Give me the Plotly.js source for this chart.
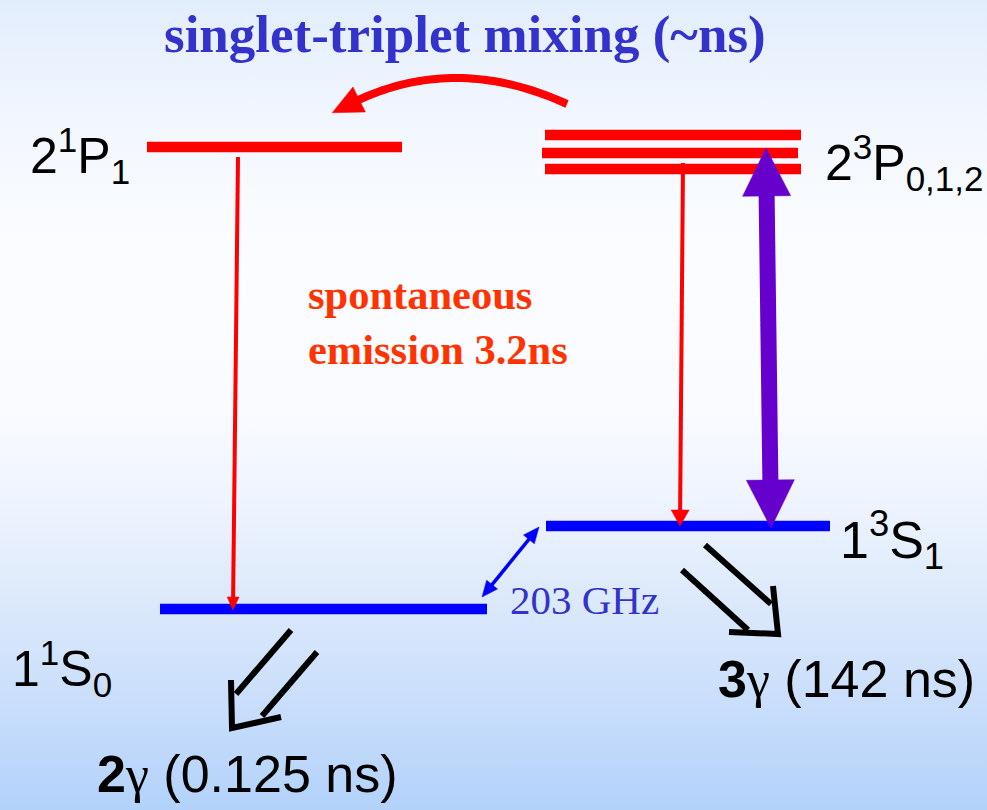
<!DOCTYPE html>
<html><head><meta charset="utf-8">
<script src="https://cdn.plot.ly/plotly-3.0.1.min.js"></script>
<style>
html,body{margin:0;padding:0;background:#fff;}
#chart{width:987px;height:810px;background:linear-gradient(to bottom,#e2edfc 0%,#f2f7fe 15%,#fafcff 30%,#f9fbff 50%,#eef4fe 62%,#dce9fb 74%,#c9defb 87%,#b2d2fa 100%);}
</style></head><body><div id="chart"></div>
<script>
// ---- data: energy levels (diagram coordinates) ----
const levelNames  = ['2¹P₁', '2³P₂', '2³P₁', '2³P₀', '1³S₁', '1¹S₀'];
const levelY      = [147, 135, 153, 169, 526, 609];
const levelXStart = [147, 545, 542, 545, 546, 160];
const levelXEnd   = [402, 801, 798, 801, 830, 487];
const levelKind   = ['P', 'P', 'P', 'P', 'S', 'S'];

// ---- data: transitions [x0, y0, x1, y1] ----
const decayLeft   = [238, 157, 233, 610];   // 2¹P₁ -> 1¹S₀
const decayRight  = [683, 163, 680, 526];   // 2³P -> 1³S₁
const laserArrow  = [766, 148, 771, 528];   // 1³S₁ <-> 2³P
const hfsArrow    = [482, 597, 539, 527];   // 1¹S₀ <-> 1³S₁ (203 GHz)
const mixStart    = [567, 104];
const mixPeak     = [457, 78];
const mixEnd      = [352, 103];

// ---- data: annihilation arrows (shaft A, shaft B, head corner, arm ends) ----
const gamma2 = {a:[291,630,236,694], b:[317,652,262,716], corner:[232,728], arm1:[231,680], arm2:[281,717]};
const gamma3 = {a:[705,545,771,604], b:[682,570,748,630], corner:[778,634], arm1:[773,586], arm2:[729,632]};

// ---- text ----
const G = '<span style="font-family:Liberation Serif">γ</span>';
const levelLabels = ['2<sup>1</sup>P<sub>1</sub>', '2<sup>3</sup>P<sub>0,1,2</sub>', '1<sup>3</sup>S<sub>1</sub>', '1<sup>1</sup>S<sub>0</sub>'];
const titleText = '<b>singlet-triplet mixing (~ns)</b>';
const emissionText = '<b>spontaneous<br>emission 3.2ns</b>';
const hfsText = '203 GHz';
const gammaLabels = ['<b>2</b>' + G + ' (0.125 ns)', '<b>3</b>' + G + ' (142 ns)'];

const RED = '#ff0000', BLUE = '#0000ff', PURPLE = '#6600cc', BLACK = '#000000';
const traces = [];
function seg(x0, y0, x1, y1, color, width) {
  traces.push({x:[x0, x1], y:[y0, y1], mode:'lines', line:{color:color, width:width}, hoverinfo:'skip', showlegend:false});
}
function poly(xs, ys, color, width) {
  traces.push({x:xs, y:ys, mode:'lines', line:{color:color, width:width, simplify:false}, hoverinfo:'skip', showlegend:false});
}
function head(tx, ty, fx, fy, len, halfW, color) {
  const dx = tx - fx, dy = ty - fy, L = Math.hypot(dx, dy);
  const ux = dx / L, uy = dy / L, px = -uy, py = ux;
  const bx = tx - ux * len, by = ty - uy * len;
  traces.push({x:[tx, bx + px * halfW, bx - px * halfW, tx], y:[ty, by + py * halfW, by - py * halfW, ty],
    mode:'lines', fill:'toself', fillcolor:color, line:{color:color, width:0.5}, hoverinfo:'skip', showlegend:false});
  return [tx - ux * len * 0.8, ty - uy * len * 0.8];
}
function arrow(a, color, width, len, halfW, both) {
  let [x0, y0, x1, y1] = a;
  const e = head(x1, y1, x0, y0, len, halfW, color);
  let s = [x0, y0];
  if (both) s = head(x0, y0, x1, y1, len, halfW, color);
  seg(s[0], s[1], e[0], e[1], color, width);
}

// levels
for (let i = 0; i < levelNames.length; i++) {
  seg(levelXStart[i], levelY[i], levelXEnd[i], levelY[i], levelKind[i] === 'P' ? RED : BLUE, 10.5);
}
// transitions
arrow(decayLeft, RED, 4, 13, 6, false);
arrow(decayRight, RED, 4, 16, 9, false);
arrow(laserArrow, PURPLE, 16, 48, 24, true);
arrow(hfsArrow, BLUE, 3.5, 16, 7, true);

// curved mixing arrow (quadratic Bezier through peak)
const cx = 2 * mixPeak[0] - 0.5 * (mixStart[0] + mixEnd[0]);
const cy = 2 * mixPeak[1] - 0.5 * (mixStart[1] + mixEnd[1]);
const bxs = [], bys = [];
for (let k = 0; k <= 40; k++) {
  const t = k / 40;
  bxs.push((1 - t) * (1 - t) * mixStart[0] + 2 * (1 - t) * t * cx + t * t * mixEnd[0]);
  bys.push((1 - t) * (1 - t) * mixStart[1] + 2 * (1 - t) * t * cy + t * t * mixEnd[1]);
}
poly(bxs, bys, RED, 8);
{
  const dx = mixEnd[0] - cx, dy = mixEnd[1] - cy, L = Math.hypot(dx, dy);
  head(mixEnd[0] + dx / L * 22, mixEnd[1] + dy / L * 22, mixEnd[0], mixEnd[1], 30, 14, RED);
}

// hollow annihilation arrows
[gamma2, gamma3].forEach(g => {
  seg(g.a[0], g.a[1], g.a[2], g.a[3], BLACK, 6);
  seg(g.b[0], g.b[1], g.b[2], g.b[3], BLACK, 6);
  poly([g.arm1[0], g.corner[0], g.arm2[0]], [g.arm1[1], g.corner[1], g.arm2[1]], BLACK, 6);
});

const SANS = 'Liberation Sans, Arial, sans-serif';
const SERIF = 'Liberation Serif, Times New Roman, serif';
function txt(text, x, y, size, color, family, xanchor) {
  return {text:text, x:x, y:y, xref:'x', yref:'y', showarrow:false, xanchor:xanchor || 'left', yanchor:'middle',
    font:{family:family, size:size, color:color}, align:'left'};
}
const annotations = [
  txt(titleText, 465, 34, 53, '#3333cc', SERIF, 'center'),
  txt(levelLabels[0], 28, 155, 50, BLACK, SANS),
  txt(levelLabels[1], 823, 162, 50, BLACK, SANS),
  txt(levelLabels[2], 838, 540, 52, BLACK, SANS),
  txt(levelLabels[3], 10, 668, 50, BLACK, SANS),
  txt(emissionText, 306, 322, 42.5, '#ff3300', SERIF),
  txt(hfsText, 508, 600, 41, '#3333cc', SERIF),
  txt(gammaLabels[0], 95, 774, 52, BLACK, SANS),
  txt(gammaLabels[1], 716, 679, 52, BLACK, SANS)
];

const layout = {
  width:987, height:810, margin:{l:0, r:0, t:0, b:0},
  paper_bgcolor:'rgba(0,0,0,0)', plot_bgcolor:'rgba(0,0,0,0)',
  xaxis:{range:[0, 987], visible:false, fixedrange:true},
  yaxis:{range:[810, 0], visible:false, fixedrange:true},
  showlegend:false, annotations:annotations, hovermode:false
};
Plotly.newPlot('chart', traces, layout, {staticPlot:true});
</script></body></html>
